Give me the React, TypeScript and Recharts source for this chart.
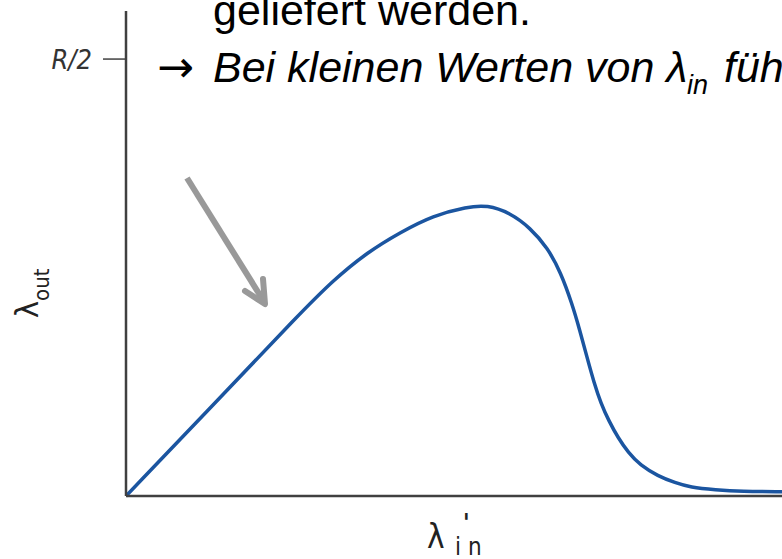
import { LineChart, Line, XAxis, YAxis } from "recharts";

// λ'in and λout, both in units of R
const lambdaIn = [
  0, 0.108, 0.199, 0.237, 0.276, 0.314, 0.351, 0.39, 0.413, 0.439, 0.462, 0.482,
  0.497, 0.51, 0.519, 0.527, 0.535, 0.543, 0.552, 0.563, 0.574, 0.588, 0.608,
  0.628, 0.645, 0.674, 0.703, 0.751,
];
const lambdaOut = [
  0, 0.113, 0.209, 0.247, 0.279, 0.302, 0.321, 0.331, 0.333, 0.324, 0.307, 0.284,
  0.256, 0.22, 0.189, 0.159, 0.130, 0.106, 0.086, 0.066, 0.05, 0.035, 0.023,
  0.015, 0.01, 0.007, 0.005, 0.005,
];
const yTicks = [0.5];
const yTickLabels = ["R/2"];

const data = lambdaIn.map((x, i) => ({ x, y: lambdaOut[i] }));

const W = 782;
const H = 559;
const AXIS = "#404040";
const SANS = "'Liberation Sans', Arial, sans-serif";
const CONDENSED = "'DejaVu Sans Condensed', 'DejaVu Sans', sans-serif";

export default function App() {
  return (
    <div
      style={{
        position: "absolute",
        left: 0,
        top: 0,
        width: W,
        height: H,
        overflow: "hidden",
        background: "#fff",
      }}
    >
      <LineChart
        width={W}
        height={H}
        data={data}
        margin={{ top: 11, right: 0, bottom: 0, left: 0 }}
      >
        <XAxis
          dataKey="x"
          type="number"
          domain={[0, 0.75]}
          allowDataOverflow
          tick={false}
          tickLine={false}
          height={63}
          axisLine={{ stroke: AXIS, strokeWidth: 2.5 }}
        />
        <YAxis
          type="number"
          domain={[0, 0.555]}
          ticks={yTicks}
          tickFormatter={(v: number) => yTickLabels[yTicks.indexOf(v)] ?? ""}
          width={126}
          tickSize={23}
          tickMargin={11}
          tickLine={{ stroke: AXIS, strokeWidth: 1.5 }}
          axisLine={{ stroke: AXIS, strokeWidth: 2.5 }}
          tick={{
            fill: "#333",
            fontSize: 27,
            fontStyle: "italic",
            fontStretch: "condensed",
            fontFamily: CONDENSED,
          }}
        />
        <Line
          dataKey="y"
          type="basis"
          stroke="#1b55a0"
          strokeWidth={3.5}
          dot={false}
          activeDot={false}
          isAnimationActive={false}
        />
      </LineChart>

      {/* slide text, pointer arrow and axis titles */}
      <svg
        width={W}
        height={H}
        style={{ position: "absolute", left: 0, top: 0, pointerEvents: "none" }}
        fontFamily={SANS}
      >
        <text x={213} y={25} fontSize={43} fill="#000">
          geliefert werden.
        </text>
        <text x={157} y={82} fontSize={44} fill="#000" fontFamily="'DejaVu Sans', sans-serif">
          →
        </text>
        <g fontStyle="italic" fill="#000">
          <text x={213} y={82} fontSize={43}>
            Bei kleinen Werten von λ
          </text>
          <text x={687} y={94} fontSize={27}>
            in
          </text>
          <text x={724} y={82} fontSize={43}>
            füh
          </text>
        </g>

        <line x1={187} y1={178} x2={263} y2={300} stroke="#999" strokeWidth={6} />
        <polyline
          points="245,291 265,304 263,279"
          fill="none"
          stroke="#999"
          strokeWidth={6}
          strokeLinecap="round"
          strokeLinejoin="round"
        />

        <g transform="translate(38, 318) rotate(-90)" fill="#222" fontFamily={CONDENSED}>
          <text x={0} y={0} fontSize={32} fontStretch="condensed">
            λ
            <tspan fontSize={22} dy={11}>
              out
            </tspan>
          </text>
        </g>

        <g fill="#222" fontFamily={CONDENSED} fontStretch="condensed">
          <text x={427} y={548} fontSize={33}>
            λ
          </text>
          <text x={463} y={531} fontSize={24} fontWeight="bold">
            '
          </text>
          <text x={455} y={555} fontSize={24} letterSpacing={7}>
            in
          </text>
        </g>
      </svg>
    </div>
  );
}
